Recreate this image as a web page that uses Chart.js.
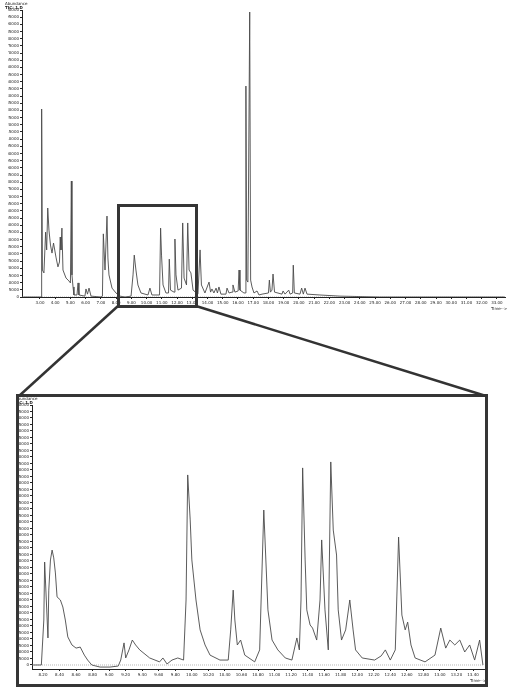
<!DOCTYPE html>
<html>
<head>
<meta charset="utf-8">
<script src="https://cdn.jsdelivr.net/npm/chart.js@4.4.0/dist/chart.umd.min.js"></script>
<style>
  html, body { margin: 0; padding: 0; background: #fff; width: 517px; height: 687px; overflow: hidden; }
  body { position: relative; font-family: "DejaVu Sans", sans-serif; }
  #topChart { position: absolute; left: 0; top: 0; }
  #zoomChart { position: absolute; left: 18px; top: 395px; }
  .frame { position: absolute; border: 3px solid #353535; box-sizing: border-box; pointer-events: none; }
  svg { position: absolute; left: 0; top: 0; pointer-events: none; }
</style>
</head>
<body>
<canvas id="topChart" width="517" height="315"></canvas>
<canvas id="zoomChart" width="470" height="292"></canvas>
<div class="frame" style="left:117px;top:204px;width:81px;height:104px"></div>
<div class="frame" style="left:16px;top:394px;width:472px;height:293px"></div>
<svg width="517" height="687">
  <line x1="118" y1="306" x2="19" y2="396" stroke="#333" stroke-width="2.5"/>
  <line x1="196" y1="306" x2="486" y2="396" stroke="#333" stroke-width="2.5"/>
</svg>
<script>
// full run (TIC), time in minutes, abundance in relative units
var topTime = [1.9, 3.07, 3.11, 3.16, 3.26, 3.37, 3.44, 3.51, 3.59, 3.69, 3.79, 3.89, 4.05, 4.18, 4.28, 4.33, 4.38, 4.44, 4.51, 4.71,
  4.90, 5.00, 5.06, 5.10, 5.17, 5.23, 5.43, 5.50, 5.56, 5.95, 6.02, 6.12, 6.22, 6.35, 7.00, 7.10, 7.16, 7.27, 7.40, 7.46,
  7.53, 7.73, 7.99, 8.25, 8.58, 8.98, 9.11, 9.19, 9.30, 9.43, 9.63, 10.09, 10.22, 10.35, 10.85, 10.92, 10.98, 11.08, 11.27, 11.44,
  11.49, 11.57, 11.80, 11.86, 11.93, 12.06, 12.29, 12.37, 12.46, 12.62, 12.70, 12.79, 12.91, 13.05, 13.37, 13.51, 13.60, 13.83, 14.10, 14.20,
  14.29, 14.42, 14.56, 14.65, 14.75, 14.88, 15.21, 15.28, 15.41, 15.61, 15.67, 15.80, 16.01, 16.07, 16.13, 16.39, 16.48, 16.52, 16.57, 16.65,
  16.77, 16.83, 16.92, 17.05, 17.25, 17.38, 17.58, 18.00, 18.06, 18.13, 18.23, 18.30, 18.40, 18.89, 18.96, 19.09, 19.33, 19.42, 19.59, 19.63,
  19.70, 20.07, 20.18, 20.29, 20.40, 20.53, 21.38, 22.70, 25.30, 33.50];
var topAbund = [0, 0, 65.5, 9.4, 8.4, 22.6, 16.4, 31.0, 23.3, 18.1, 15.3, 18.8, 13.9, 10.5, 12.2, 20.9, 16.4, 24.0, 9.4, 6.6,
  5.6, 4.9, 40.4, 7.7, 3.5, 0.7, 0.7, 4.9, 0.7, 0.3, 2.8, 1.0, 3.1, 0.3, 0, 0.3, 22.0, 9.4, 28.2, 13.6,
  7.7, 3.1, 1.4, 0.3, 0, 0.3, 7.7, 14.6, 9.4, 4.2, 1.4, 0.7, 3.1, 0.7, 0.7, 24.0, 14.6, 4.2, 1.4, 1.4,
  13.2, 2.4, 1.7, 20.2, 7.7, 2.4, 3.1, 25.8, 6.6, 4.2, 25.8, 9.4, 8.4, 2.4, 1.0, 16.4, 4.2, 1.4, 5.2, 1.7,
  2.8, 1.4, 3.1, 1.4, 3.5, 1.0, 1.0, 3.1, 1.4, 1.7, 4.2, 1.7, 2.1, 9.4, 2.4, 1.4, 1.4, 73.5, 5.9, 5.2,
  99.3, 5.9, 3.5, 1.4, 2.1, 0.7, 1.0, 1.4, 5.9, 1.7, 2.4, 8.0, 1.7, 1.0, 2.1, 1.0, 2.4, 1.0, 1.4, 11.1,
  1.4, 1.0, 3.1, 1.0, 3.1, 1.0, 0.7, 0.3, 0, 0];

// expanded section
var zoomTime = [8.08, 8.18, 8.21, 8.22, 8.24, 8.26, 8.27, 8.29, 8.31, 8.33, 8.35, 8.37, 8.41, 8.44, 8.47, 8.50, 8.55, 8.60, 8.65, 8.70,
  8.74, 8.79, 8.89, 9.01, 9.11, 9.14, 9.18, 9.20, 9.24, 9.28, 9.32, 9.37, 9.49, 9.61, 9.65, 9.70, 9.76, 9.83, 9.90, 9.93,
  9.95, 9.98, 10.00, 10.05, 10.10, 10.16, 10.22, 10.34, 10.44, 10.47, 10.50, 10.52, 10.55, 10.59, 10.64, 10.76, 10.82, 10.87, 10.92, 10.97,
  11.04, 11.13, 11.21, 11.27, 11.30, 11.32, 11.34, 11.37, 11.39, 11.43, 11.46, 11.51, 11.55, 11.57, 11.61, 11.65, 11.66, 11.68, 11.71, 11.75,
  11.77, 11.81, 11.86, 11.91, 11.95, 11.98, 12.06, 12.21, 12.29, 12.34, 12.40, 12.46, 12.50, 12.54, 12.58, 12.61, 12.65, 12.70, 12.82, 12.94,
  13.01, 13.07, 13.12, 13.18, 13.24, 13.30, 13.36, 13.42, 13.48, 13.52];
var zoomAbund = [0, 0, 17.3, 39.6, 25.0, 10.4, 28.8, 40.4, 44.2, 41.2, 35.4, 26.2, 25.0, 22.3, 17.3, 10.8, 7.7, 6.5, 6.9, 3.8,
  1.9, 0, -0.8, -0.8, -0.4, 1.9, 8.5, 2.7, 5.8, 9.6, 7.7, 5.8, 2.7, 1.2, 2.7, 0.4, 1.9, 2.7, 1.9, 25.0,
  73.1, 55.8, 40.4, 25.0, 13.5, 7.7, 3.8, 1.9, 1.9, 13.5, 28.8, 17.3, 7.7, 9.6, 3.8, 1.2, 5.8, 59.6, 21.2, 9.6,
  5.8, 2.7, 1.9, 10.4, 5.8, 25.0, 75.8, 40.4, 21.2, 15.4, 14.2, 9.6, 25.0, 48.1, 21.2, 5.8, 32.7, 78.1, 51.9, 42.3,
  21.2, 9.6, 13.5, 25.0, 13.5, 5.8, 2.7, 1.9, 3.5, 5.8, 1.9, 5.8, 49.2, 19.2, 13.5, 16.5, 7.7, 2.7, 1.2, 3.8,
  14.2, 6.5, 9.6, 7.7, 9.6, 5.0, 7.7, 1.9, 9.6, 0];

var topTicks = [3, 4, 5, 6, 7, 8, 9, 10, 11, 12, 13, 14, 15, 16, 17, 18, 19, 20, 21, 22, 23, 24, 25, 26, 27, 28, 29, 30, 31, 32, 33];
var zoomTicks = [8.2, 8.4, 8.6, 8.8, 9.0, 9.2, 9.4, 9.6, 9.8, 10.0, 10.2, 10.4, 10.6, 10.8, 11.0, 11.2, 11.4, 11.6, 11.8, 12.0,
  12.2, 12.4, 12.6, 12.8, 13.0, 13.2, 13.4];

function pts(xs, ys) {
  return xs.map(function (x, i) { return { x: x, y: ys[i] }; });
}

var yStep = [];
for (var v = 0; v <= 100; v += 2.5) yStep.push(v);

// small header / footer labels like the instrument printout
function labelsPlugin(head, sub, foot) {
  return {
    id: 'labels',
    afterDraw: function (chart) {
      var c = chart.ctx, a = chart.chartArea;
      c.save();
      c.fillStyle = '#222';
      c.font = '4px "DejaVu Sans"';
      c.textBaseline = 'alphabetic';
      c.textAlign = 'left';
      c.fillText(head, a.left - 17, a.top - 5);
      c.font = 'bold 4px "DejaVu Sans"';
      c.fillText(sub, a.left - 17, a.top - 1);
      c.font = '4px "DejaVu Sans"';
      c.textAlign = 'right';
      c.fillText(foot, a.right + 2, chart.height - 5);
      c.restore();
    }
  };
}

function makeChart(id, data, xmin, xmax, ticks, ymin, pad) {
  return new Chart(document.getElementById(id).getContext('2d'), {
    type: 'line',
    data: {
      datasets: [
        {
          data: pts([xmin, xmax], [0, 0]),
          borderColor: '#888',
          borderWidth: 0.6,
          borderDash: [1, 1],
          pointRadius: 0
        },
        {
          data: data,
          borderColor: '#4a4a4a',
          borderWidth: 0.9,
          pointRadius: 0,
          tension: 0
        }
      ]
    },
    options: {
      responsive: false,
      animation: false,
      layout: { padding: pad },
      plugins: { legend: { display: false }, tooltip: { enabled: false } },
      scales: {
        x: {
          type: 'linear',
          min: xmin,
          max: xmax,
          afterFit: function (s) { s.height = 18; },
          afterBuildTicks: function (s) { s.ticks = ticks.map(function (t) { return { value: t }; }); },
          ticks: {
            autoSkip: false, maxRotation: 0, padding: 2, color: '#222',
            font: { size: 4, family: 'DejaVu Sans' },
            callback: function (val) { return val.toFixed(2); }
          },
          grid: { drawOnChartArea: false, tickLength: 2, color: '#222' },
          border: { color: '#222', width: 1 }
        },
        y: {
          min: ymin,
          max: 100,
          afterFit: function (s) { s.width = 14; },
          afterBuildTicks: function (s) { s.ticks = yStep.map(function (t) { return { value: t }; }); },
          ticks: {
            autoSkip: false, padding: 1, color: '#222',
            font: { size: 4, family: 'DejaVu Sans' },
            callback: function (val) { return Math.round(val * 2000); }
          },
          grid: { drawOnChartArea: false, tickLength: 2, color: '#222' },
          border: { color: '#222', width: 1 }
        }
      }
    },
    plugins: [labelsPlugin('Abundance', 'TIC: 1.D', 'Time-->')]
  });
}

makeChart('topChart', pts(topTime, topAbund), 1.82, 33.53, topTicks, 0, { left: 8, right: 12, top: 10, bottom: 0 });
makeChart('zoomChart', pts(zoomTime, zoomAbund), 8.067, 13.533, zoomTicks, -1.54, { left: 0, right: 4, top: 10, bottom: 0 });
</script>
</body>
</html>
